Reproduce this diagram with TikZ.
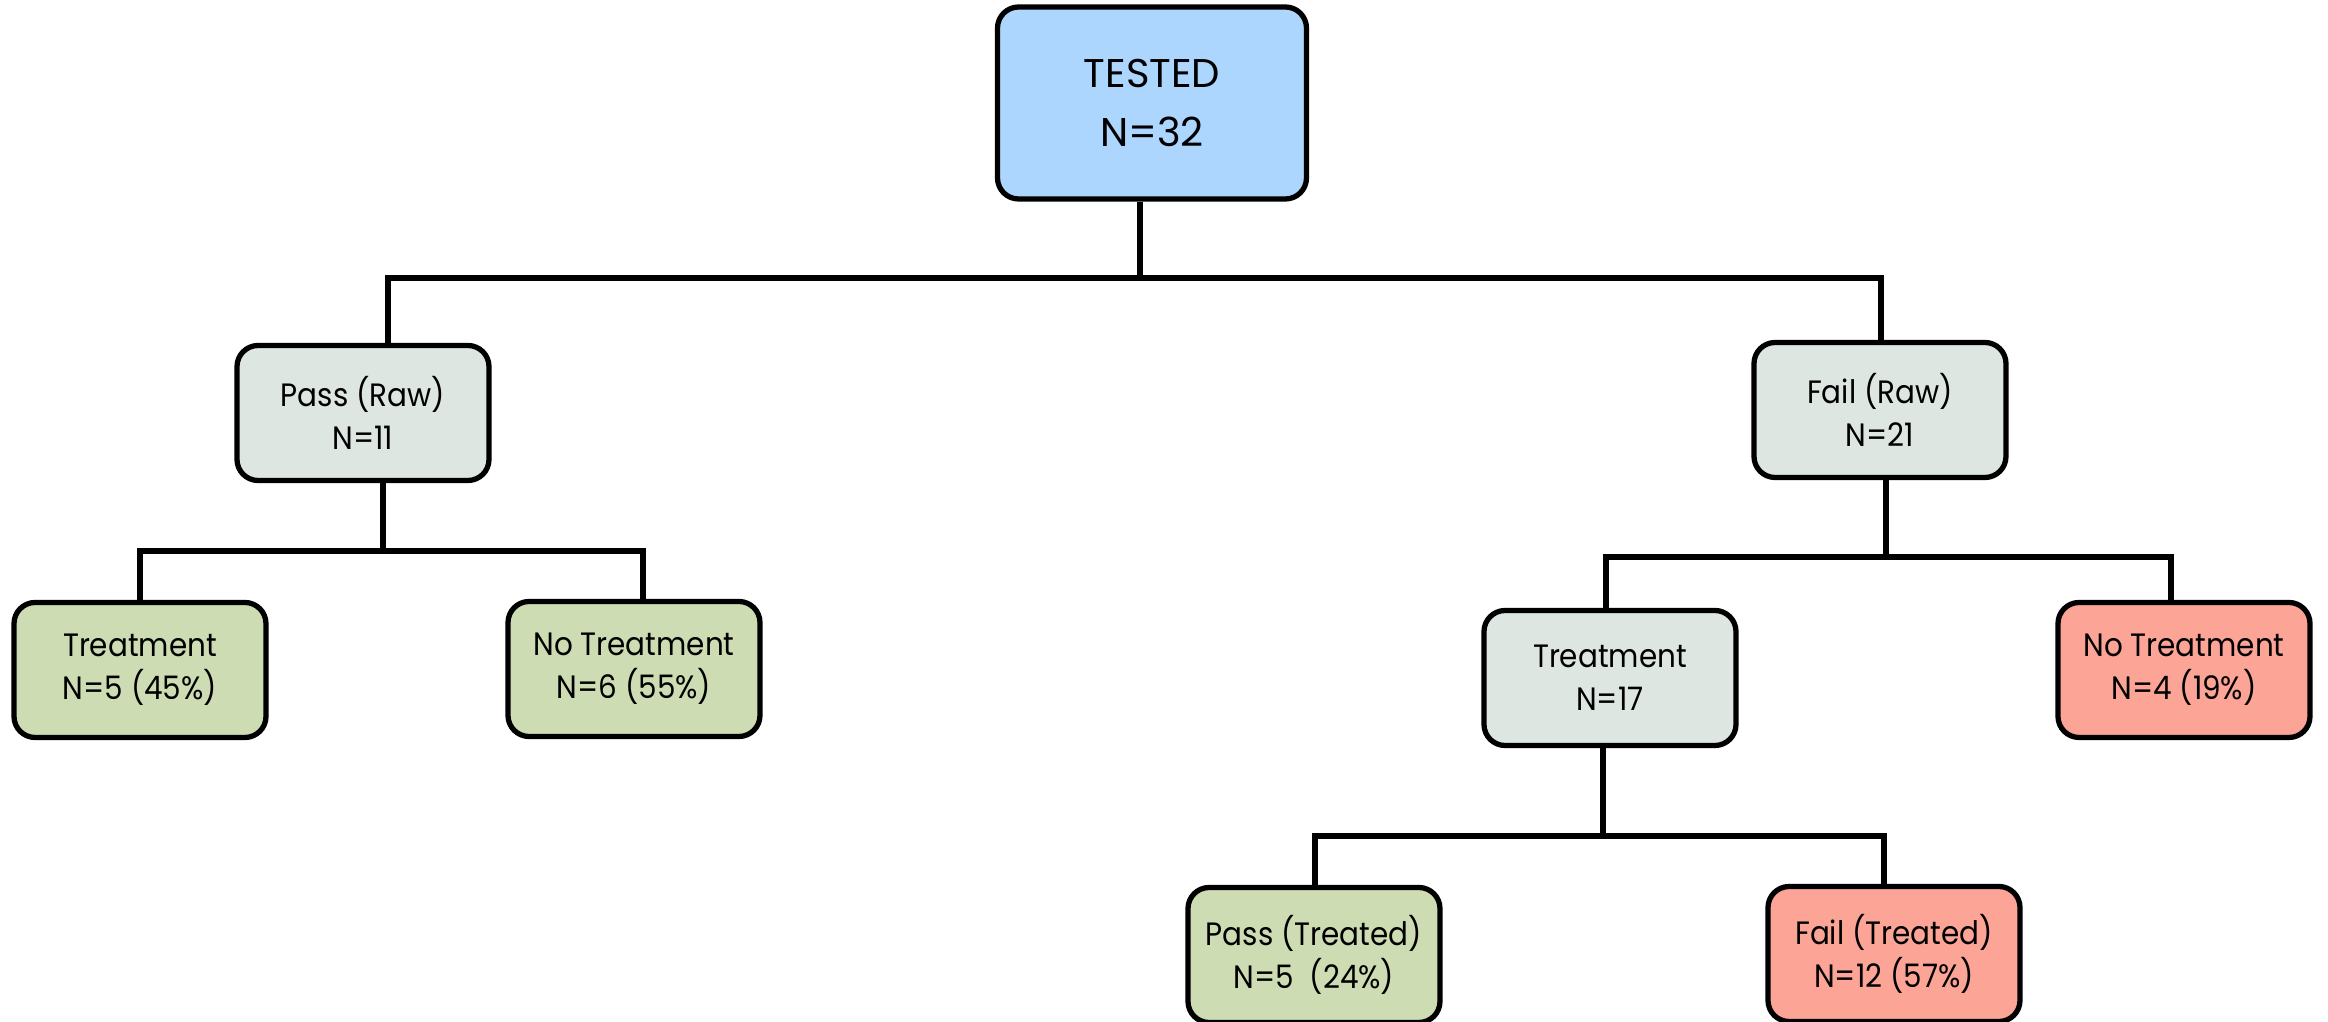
\documentclass[tikz,border=0pt]{standalone}
\usepackage{fontspec}
\setmainfont{Poppins}
\newfontfamily\narrowf{Poppins}[FakeStretch=0.91]
\definecolor{cblue}{RGB}{173,214,254}
\definecolor{cgray}{RGB}{222,230,226}
\definecolor{cgreen}{RGB}{205,220,178}
\definecolor{cred}{RGB}{252,164,150}
\tikzset{
  box/.style={draw=black, line width=1.5pt, rounded corners=6pt, align=center,
    minimum width=2.52cm, minimum height=1.35cm, inner sep=0pt,
    font=\narrowf\fontsize{9.2}{12.2}\selectfont},
  big/.style={box, minimum width=3.09cm, minimum height=1.92cm,
    font=\fontsize{11.4}{16.8}\selectfont},
  conn/.style={line width=1.65pt}
}
\begin{document}
\begin{tikzpicture}
\useasboundingbox (0,0) rectangle (23.28,10.22);
\node[big, fill=cblue] (tested) at (11.52,9.19) {TESTED\\N=32};
\node[box, fill=cgray] (passraw) at (3.63,6.09) {Pass (Raw)\\N=11};
\node[box, fill=cgray] (failraw) at (18.80,6.12) {Fail (Raw)\\N=21};
\node[box, fill=cgreen] (trtL) at (1.40,3.52) {Treatment\\N=5 (45\%)};
\node[box, fill=cgreen] (notrtL) at (6.34,3.53) {No Treatment\\N=6 (55\%)};
\node[box, fill=cgray] (trtM) at (16.10,3.44) {Treatment\\N=17};
\node[box, fill=cred] (notrtR) at (21.84,3.52) {No Treatment\\N=4 (19\%)};
\node[box, fill=cgreen] (passT) at (13.14,0.67) {Pass (Treated)\\N=5\ \ (24\%)};
\node[box, fill=cred] (failT) at (18.94,0.68) {Fail (Treated)\\N=12 (57\%)};
% level 1
\coordinate (j1) at (11.40,7.44);
\coordinate (j1l) at (3.88,7.44);
\coordinate (j1r) at (18.81,7.44);
\draw[conn] (tested.south -| j1) -- (j1);
\draw[conn] (passraw.north -| j1l) -- (j1l) -- (j1r) -- (failraw.north -| j1r);
% level 2 left
\coordinate (j2) at (3.83,4.71);
\coordinate (j2l) at (1.40,4.71);
\coordinate (j2r) at (6.43,4.71);
\draw[conn] (passraw.south -| j2) -- (j2);
\draw[conn] (trtL.north -| j2l) -- (j2l) -- (j2r) -- (notrtL.north -| j2r);
% level 2 right
\coordinate (j3) at (18.86,4.65);
\coordinate (j3l) at (16.06,4.65);
\coordinate (j3r) at (21.71,4.65);
\draw[conn] (failraw.south -| j3) -- (j3);
\draw[conn] (trtM.north -| j3l) -- (j3l) -- (j3r) -- (notrtR.north -| j3r);
% level 3
\coordinate (j4) at (16.03,1.86);
\coordinate (j4l) at (13.15,1.86);
\coordinate (j4r) at (18.84,1.86);
\draw[conn] (trtM.south -| j4) -- (j4);
\draw[conn] (passT.north -| j4l) -- (j4l) -- (j4r) -- (failT.north -| j4r);
\end{tikzpicture}
\end{document}
